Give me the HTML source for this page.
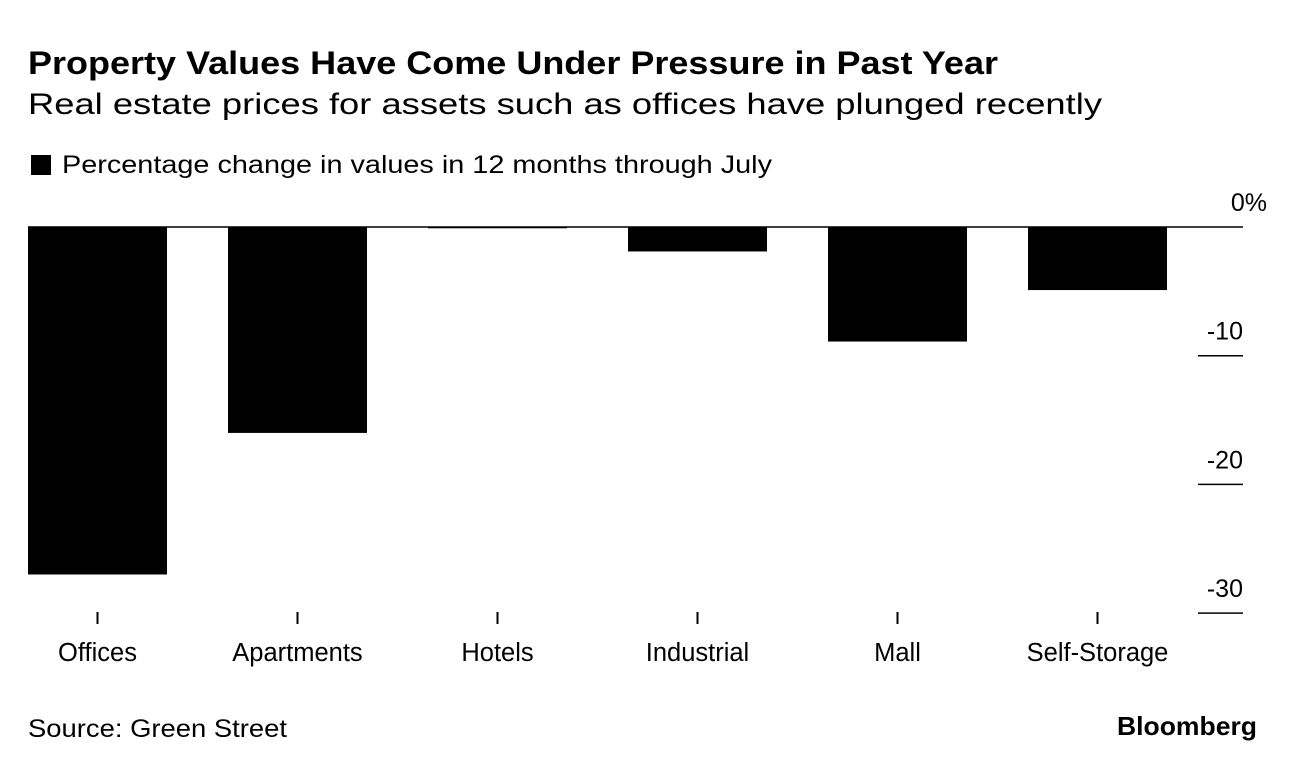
<!DOCTYPE html>
<html><head><meta charset="utf-8"><style>
body{margin:0;background:#fff;font-family:"Liberation Sans",sans-serif;}
svg text{font-family:"Liberation Sans",sans-serif;fill:#000}
</style></head><body>
<svg width="1296" height="770">
<text x="28" y="74" font-size="32" font-weight="bold" textLength="970" lengthAdjust="spacingAndGlyphs">Property Values Have Come Under Pressure in Past Year</text>
<text x="28" y="114" font-size="30" textLength="1074" lengthAdjust="spacingAndGlyphs">Real estate prices for assets such as offices have plunged recently</text>
<rect x="31" y="155" width="20" height="20" fill="#000"/>
<text x="62" y="173" font-size="25" textLength="710" lengthAdjust="spacingAndGlyphs">Percentage change in values in 12 months through July</text>
<g id="plot"></g>
<text x="28" y="737" font-size="25" textLength="259" lengthAdjust="spacingAndGlyphs">Source: Green Street</text>
<text x="1257" y="735" font-size="26" font-weight="bold" text-anchor="end" textLength="140" lengthAdjust="spacingAndGlyphs">Bloomberg</text>
</svg>
<script>
const categories=["Offices","Apartments","Hotels","Industrial","Mall","Self-Storage"];
const values=[-27.0,-16.0,-0.1,-1.9,-8.9,-4.9];
const ticks=[0,-10,-20,-30];
const tickLabels=["0%","-10","-20","-30"];
const NS="http://www.w3.org/2000/svg";
const g=document.getElementById("plot");
const y0=227,pxPer=12.87;
const y=v=>y0-v*pxPer;
const x=i=>28+i*200;
const bw=139;
function el(t,a){const e=document.createElementNS(NS,t);for(const k in a)e.setAttribute(k,a[k]);g.appendChild(e);return e;}
values.forEach((v,i)=>{
 const r=el("rect",{x:x(i),y:Math.min(y(v),y0),width:bw,height:Math.max(Math.abs(y(v)-y0),1),fill:"#000"});
 
 
 const tk=el("line",{x1:x(i)+bw/2,x2:x(i)+bw/2,y1:612,y2:624,stroke:"#000","stroke-width":2});
 
 
 const t=el("text",{x:x(i)+bw/2,y:661,"font-size":25.5,"text-anchor":"middle"});
 t.textContent=categories[i];
 
 
});
const zl=el("line",{x1:28,x2:1243,y1:y0,y2:y0,stroke:"#000","stroke-width":1.5});


ticks.forEach((v,i)=>{
 if(v!==0){const l=el("line",{x1:1198,x2:1243,y1:y(v),y2:y(v),stroke:"#000","stroke-width":1.5});
 
 }
 const t=el("text",{x:v===0?1267:1243,y:y(v)-16,"font-size":25,"text-anchor":"end"});
 t.textContent=tickLabels[i];
 
 
});
</script>
</body></html>
